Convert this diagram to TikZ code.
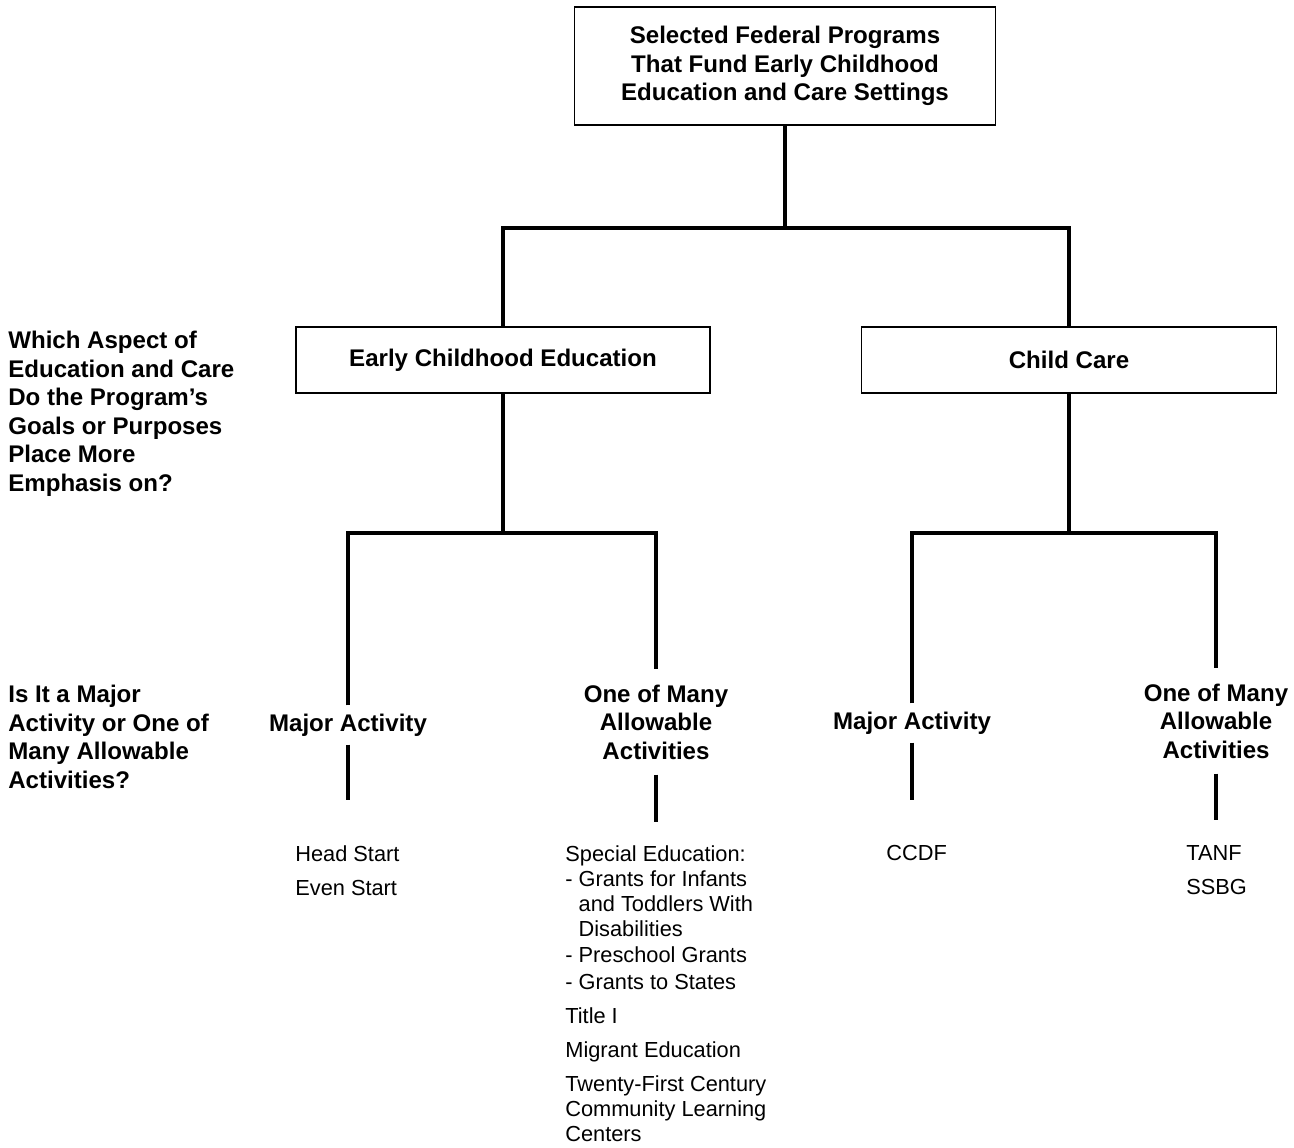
\documentclass[tikz,border=0pt]{standalone}
\usepackage{fontspec}
\setmainfont{Liberation Sans}
\usetikzlibrary{positioning}

\newcommand{\boldtext}{\fontsize{13.7}{16.2}\selectfont\bfseries}
\newcommand{\plaintext}{\fontsize{12.4}{14.2}\selectfont}

\begin{document}
\begin{tikzpicture}[x=0.02cm, y=-0.02cm,
    box/.style={draw, line width=0.9pt, align=center, font=\boldtext},
    level/.style={align=center, font=\boldtext, inner xsep=0pt, inner ysep=0.16cm},
    question/.style={align=left, font=\boldtext, anchor=north west, inner sep=0pt},
    entries/.style={align=left, font=\plaintext, anchor=north west, inner sep=0pt},
    link/.style={line width=1.8pt}]
    \useasboundingbox (0,0) rectangle (1294,1147);

    % boxes
    \node[box, minimum width=8.42cm, minimum height=2.36cm] (top) at (785,66) {Selected Federal Programs\\That Fund Early Childhood\\Education and Care Settings};
    \node[box, minimum width=8.28cm, minimum height=1.32cm] (ece) at (503,360) {Early Childhood Education};
    \node[box, minimum width=8.3cm, minimum height=1.32cm] (cc) at (1069,360) {Child Care};

    % second level
    \node[level] (ma1) at (348,725) {Major Activity};
    \node[level, inner ysep=0.3cm] (om1) at (656,722) {One of Many\\Allowable\\Activities};
    \node[level] (ma2) at (912,723) {Major Activity};
    \node[level, inner ysep=0.3cm] (om2) at (1216,721) {One of Many\\Allowable\\Activities};

    % questions
    \node[question] (q1) at (8,331) {Which Aspect of\\Education and Care\\Do the Program's\\Goals or Purposes\\Place More\\Emphasis on?};
    \node[question] (q2) at (8,685) {Is It a Major\\Activity or One of\\Many Allowable\\Activities?};

    % programs
    \node[entries] (ecemajor) at (295,845) {Head Start\\[0.18cm]Even Start};
    \node[entries] (ecemany) at (565,845) {Special Education:\\- Grants for Infants\\\hphantom{- }and Toddlers With\\\hphantom{- }Disabilities\\[0.04cm]- Preschool Grants\\[0.04cm]- Grants to States\\[0.18cm]Title I\\[0.18cm]Migrant Education\\[0.18cm]Twenty-First Century\\Community Learning\\Centers};
    \node[entries] (ccmajor) at (886,845) {CCDF};
    \node[entries] (ccmany) at (1186,845) {TANF\\[0.18cm]SSBG};

    \coordinate (split1) at (785,228);
    \coordinate (split2) at (503,533);
    \coordinate (split3) at (1069,533);
    \coordinate (end1) at (348,800);
    \coordinate (end2) at (656,822);
    \coordinate (end3) at (912,800);
    \coordinate (end4) at (1216,820);

    \draw[link] (top.south) -- (split1);
    \draw[link] (ece.north) |- (split1) -| (cc.north);
    \draw[link] (ece.south) -- (split2);
    \draw[link] (ma1.north) |- (split2) -| (om1.north);
    \draw[link] (cc.south) -- (split3);
    \draw[link] (ma2.north) |- (split3) -| (om2.north);
    \draw[link] (ma1.south) -- (end1);
    \draw[link] (om1.south) -- (end2);
    \draw[link] (ma2.south) -- (end3);
    \draw[link] (om2.south) -- (end4);
\end{tikzpicture}
\end{document}
